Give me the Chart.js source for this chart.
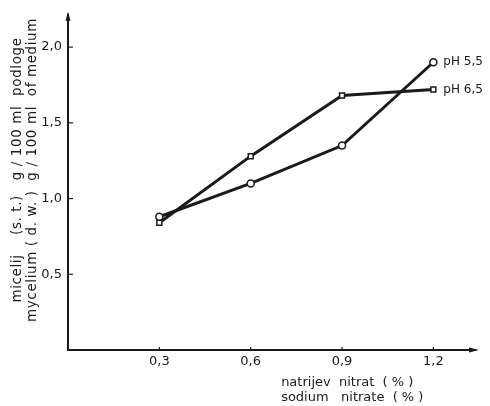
<!DOCTYPE html>
<html>
<head>
<meta charset="utf-8">
<script src="https://cdn.jsdelivr.net/npm/chart.js@4"></script>
<style>
  html, body { margin: 0; padding: 0; background: #fff; }
  #wrap { width: 490px; height: 406px; }
</style>
</head>
<body>
<div id="wrap"><canvas id="grafico"></canvas></div>
<script>
// dados
const nitrato = [0.3, 0.6, 0.9, 1.2];
const ph55 = [0.88, 1.10, 1.35, 1.90];
const ph65 = [0.84, 1.28, 1.68, 1.72];
const ticksX = [0.3, 0.6, 0.9, 1.2];
const ticksY = [0.5, 1.0, 1.5, 2.0];
const serieLabels = ["pH 5,5", "pH 6,5"];
const tituloY = ["micelij    (s. t.)   g / 100 ml  podloge", "mycelium ( d. w. )  g / 100 ml  of medium"];
const tituloX = ["natrijev  nitrat  ( % )", "sodium   nitrate  ( % )"];

const fonte = "'DejaVu Sans', sans-serif";
const tinta = "#1a1a1a";

const virgula = (v) => Number(v).toFixed(1).replace(".", ",");

// Desenha eixos com setas, marcas e textos
const extras = {
  id: "extras",
  afterDraw(chart) {
    const ctx = chart.ctx;
    const x = chart.scales.x;
    const y = chart.scales.y;
    const x0 = x.getPixelForValue(0);
    const y0 = y.getPixelForValue(0);
    ctx.save();
    ctx.strokeStyle = tinta;
    ctx.fillStyle = tinta;
    ctx.lineWidth = 2;
    // eixos
    ctx.beginPath();
    ctx.moveTo(x0, y.top);
    ctx.lineTo(x0, y0);
    ctx.lineTo(x.right, y0);
    ctx.stroke();
    // setas
    ctx.beginPath();
    ctx.moveTo(x0, y.top - 2);
    ctx.lineTo(x0 - 2.5, y.top + 7);
    ctx.lineTo(x0 + 2.5, y.top + 7);
    ctx.closePath();
    ctx.fill();
    ctx.beginPath();
    ctx.moveTo(x.right + 3, y0);
    ctx.lineTo(x.right - 7, y0 - 2.5);
    ctx.lineTo(x.right - 7, y0 + 2.5);
    ctx.closePath();
    ctx.fill();
    // marcas
    ctx.lineWidth = 1.2;
    ticksY.forEach((v) => {
      const py = y.getPixelForValue(v);
      ctx.beginPath();
      ctx.moveTo(x0, py);
      ctx.lineTo(x0 + 5, py);
      ctx.stroke();
    });
    ticksX.forEach((v) => {
      const px = x.getPixelForValue(v);
      ctx.beginPath();
      ctx.moveTo(px, y0);
      ctx.lineTo(px, y0 - 3);
      ctx.stroke();
    });
    // título do eixo y
    ctx.font = "13.5px " + fonte;
    ctx.letterSpacing = "0.6px";
    ctx.textAlign = "center";
    ctx.textBaseline = "middle";
    const cy = 170;
    [17, 32].forEach((cx, i) => {
      ctx.save();
      ctx.translate(cx, cy);
      ctx.rotate(-Math.PI / 2);
      ctx.fillText(tituloY[i], 0, 0);
      ctx.restore();
    });
    ctx.letterSpacing = "0px";
    // título do eixo x
    ctx.font = "13px " + fonte;
    ctx.textAlign = "left";
    const tx = x.getPixelForValue(0.7);
    ctx.fillText(tituloX[0], tx, 383);
    ctx.fillText(tituloX[1], tx, 398);
    // rótulos das séries
    ctx.font = "12px " + fonte;
    chart.data.datasets.forEach((ds, i) => {
      const meta = chart.getDatasetMeta(i);
      const p = meta.data[meta.data.length - 1];
      ctx.fillText(serieLabels[i], p.x + 10, p.y);
    });
    ctx.restore();
  },
};

new Chart(document.getElementById("grafico"), {
  type: "line",
  data: {
    datasets: [
      {
        label: serieLabels[0],
        data: nitrato.map((v, i) => ({ x: v, y: ph55[i] })),
        borderColor: tinta,
        borderWidth: 3,
        pointStyle: "circle",
        pointRadius: 3.5,
        pointBackgroundColor: "#fff",
        pointBorderColor: tinta,
        pointBorderWidth: 1.5,
        tension: 0,
      },
      {
        label: serieLabels[1],
        data: nitrato.map((v, i) => ({ x: v, y: ph65[i] })),
        borderColor: tinta,
        borderWidth: 3,
        pointStyle: "rect",
        pointRadius: 3.5,
        pointBackgroundColor: "#fff",
        pointBorderColor: tinta,
        pointBorderWidth: 1.5,
        tension: 0,
      },
    ],
  },
  options: {
    responsive: true,
    maintainAspectRatio: false,
    animation: false,
    layout: { padding: { top: 10, right: 14, left: 0, bottom: 0 } },
    plugins: {
      legend: { display: false },
      tooltip: { enabled: false },
    },
    scales: {
      x: {
        type: "linear",
        min: 0,
        max: 1.34,
        grid: { display: false, drawTicks: false },
        border: { display: false },
        afterBuildTicks: (s) => { s.ticks = ticksX.map((v) => ({ value: v })); },
        afterFit: (s) => { s.height = 56; },
        ticks: {
          padding: 4,
          color: tinta,
          font: { family: fonte, size: 13 },
          callback: virgula,
          maxRotation: 0,
        },
      },
      y: {
        min: 0,
        max: 2.22,
        grid: { display: false, drawTicks: false },
        border: { display: false },
        afterBuildTicks: (s) => { s.ticks = ticksY.map((v) => ({ value: v })); },
        afterFit: (s) => { s.width = 68; },
        ticks: {
          padding: 6,
          color: tinta,
          font: { family: fonte, size: 13 },
          callback: virgula,
        },
      },
    },
  },
  plugins: [extras],
});
</script>
</body>
</html>
